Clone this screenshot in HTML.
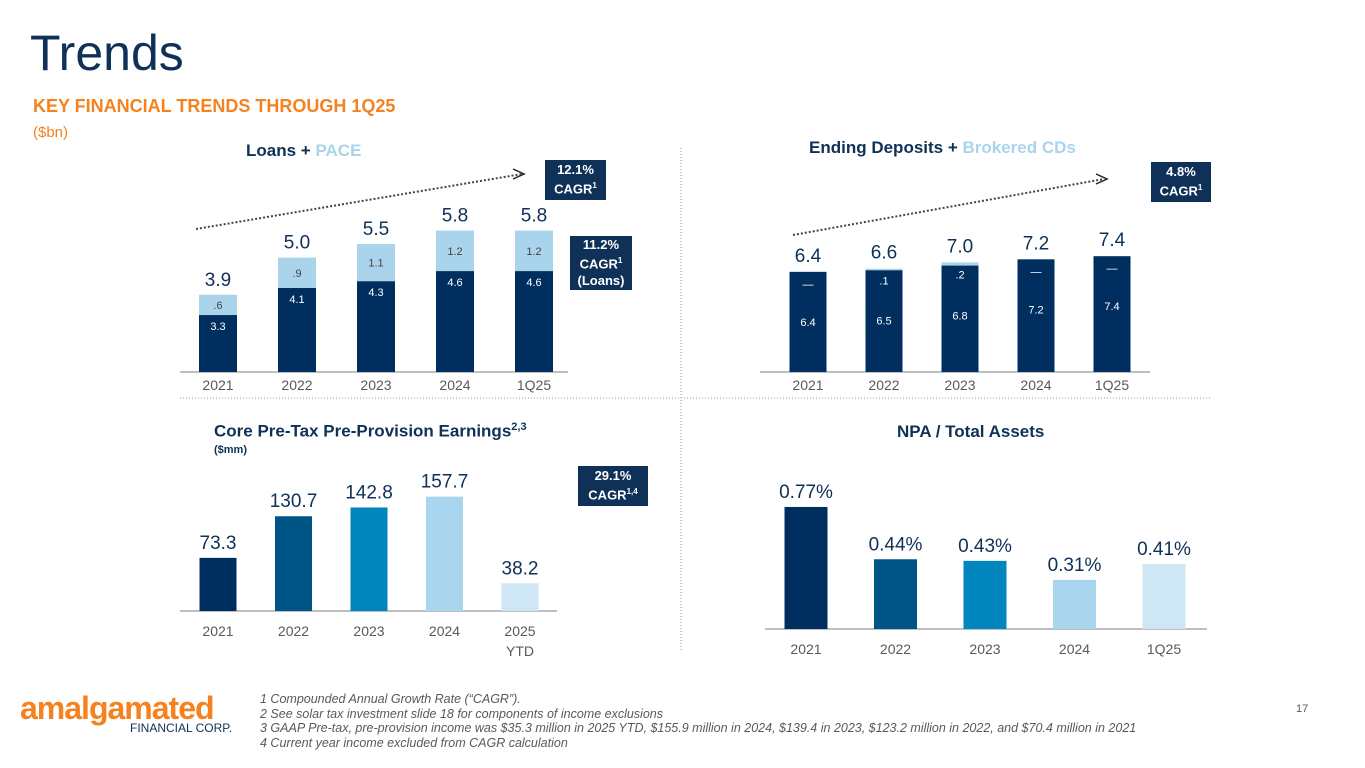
<!DOCTYPE html>
<html><head><meta charset="utf-8"><style>
body{margin:0;width:1365px;height:768px;background:#fff;font-family:"Liberation Sans",sans-serif;position:relative;overflow:hidden}
.a{position:absolute;white-space:nowrap}
.box{position:absolute;background:#0f3057;color:#fff;font-weight:bold;font-size:13px;text-align:center;line-height:16px;display:flex;flex-direction:column;justify-content:center}
sup{font-size:8px}
</style></head><body>
<div class="a" style="left:30px;top:24px;font-size:50px;color:#0f3057">Trends</div>
<div class="a" style="left:33px;top:96px;font-size:18px;font-weight:bold;color:#f5821f">KEY FINANCIAL TRENDS THROUGH 1Q25</div>
<div class="a" style="left:33px;top:124px;font-size:15px;color:#f5821f">($bn)</div>
<div class="a" style="left:246px;top:141px;font-size:17px;font-weight:bold;color:#0f3057">Loans + <span style="color:#a9d4ec">PACE</span></div>
<div class="a" style="left:809px;top:138px;font-size:17px;font-weight:bold;color:#0f3057">Ending Deposits + <span style="color:#a9d4ec">Brokered CDs</span></div>
<div class="a" style="left:214px;top:421px;font-size:17px;font-weight:bold;color:#0f3057">Core Pre-Tax Pre-Provision Earnings<sup style="font-size:11px">2,3</sup></div>
<div class="a" style="left:214px;top:444px;font-size:11px;font-weight:bold;color:#0f3057">($mm)</div>
<div class="a" style="left:897px;top:422px;font-size:17px;font-weight:bold;color:#0f3057">NPA / Total Assets</div>
<div class="box" style="left:545px;top:160px;width:61px;height:40px">12.1%<span>CAGR<sup>1</sup></span></div>
<div class="box" style="left:570px;top:236px;width:62px;height:54px">11.2%<span>CAGR<sup>1</sup></span>(Loans)</div>
<div class="box" style="left:1151px;top:162px;width:60px;height:40px">4.8%<span>CAGR<sup>1</sup></span></div>
<div class="box" style="left:578px;top:466px;width:70px;height:40px">29.1%<span>CAGR<sup>1,4</sup></span></div>
<svg class="a" style="left:0;top:0" width="1365" height="768" id="s">
<line x1="681" y1="148" x2="681" y2="652" stroke="#999" stroke-dasharray="1,2"/>
<line x1="180" y1="398" x2="1210" y2="398" stroke="#999" stroke-dasharray="1,2"/>
<line x1="196" y1="229" x2="522" y2="174" stroke="#444" stroke-width="2" stroke-dasharray="2,2"/>
<path d="M513,169 L524,174 L513,179" fill="none" stroke="#222" stroke-width="1.5"/>
<line x1="793" y1="235" x2="1104" y2="179" stroke="#444" stroke-width="2" stroke-dasharray="2,2"/>
<path d="M1096,174 L1107,179 L1096,184" fill="none" stroke="#222" stroke-width="1.5"/>
</svg>
<div class="a" style="left:20px;top:690px;font-size:32px;font-weight:bold;color:#f5821f;letter-spacing:-1px">amalgamated</div>
<div class="a" style="left:130px;top:721px;font-size:12px;color:#0f3057">FINANCIAL CORP.</div>
<div class="a" style="left:260px;top:692px;font-size:12.5px;font-style:italic;color:#595959;line-height:14.5px">1 Compounded Annual Growth Rate (“CAGR”).<br>2 See solar tax investment slide 18 for components of income exclusions<br>3 GAAP Pre-tax, pre-provision income was $35.3 million in 2025 YTD, $155.9 million in 2024, $139.4 in 2023, $123.2 million in 2022, and $70.4 million in 2021<br>4 Current year income excluded from CAGR calculation</div>
<div class="a" style="left:1296px;top:703px;font-size:11px;color:#595959">17</div>
<script>
const loanCats=["2021","2022","2023","2024","1Q25"];
const loansCore=[3.3,4.1,4.3,4.6,4.6];
const loansPace=[0.6,0.9,1.1,1.2,1.2];
const loansTotalLbl=["3.9","5.0","5.5","5.8","5.8"];
const loansCoreLbl=["3.3","4.1","4.3","4.6","4.6"];
const loansPaceLbl=[".6",".9","1.1","1.2","1.2"];
const depCats=["2021","2022","2023","2024","1Q25"];
const depCore=[6.4,6.5,6.8,7.2,7.4];
const depBrok=[0,0.1,0.2,0,0];
const depTotalLbl=["6.4","6.6","7.0","7.2","7.4"];
const depCoreLbl=["6.4","6.5","6.8","7.2","7.4"];
const depBrokLbl=["—",".1",".2","—","—"];
const ppCats=["2021","2022","2023","2024","2025"];
const ppVals=[73.3,130.7,142.8,157.7,38.2];
const npaCats=["2021","2022","2023","2024","1Q25"];
const npaVals=[0.77,0.44,0.43,0.31,0.41];
const NS="http://www.w3.org/2000/svg",s=document.getElementById('s');
function mk(t,a,txt){const e=document.createElementNS(NS,t);for(const k in a)e.setAttribute(k,a[k]);if(txt!==undefined)e.textContent=txt;s.appendChild(e);return e;}
function txt(x,y,t,size,col,name){const e=mk('text',{x:x,y:y,'text-anchor':'middle','font-size':size,fill:col,'font-family':'Liberation Sans, sans-serif'},t);

return e;}
function rect(x,y,w,h,c,name){const e=mk('rect',{x:x,y:y,width:w,height:Math.max(0,h),fill:c});

return e;}
function axis(x1,x2,y){mk('line',{x1:x1,x2:x2,y1:y,y2:y,stroke:'#aaa','stroke-width':1.5});}
const lx=i=>218+i*79, ly=v=>372-(v-1.615)*33.8;
axis(180,568,372);
loanCats.forEach((c,i)=>{const tot=loansCore[i]+loansPace[i];
rect(lx(i)-19,ly(tot),38,ly(loansCore[i])-ly(tot),'#a9d4ec','loans-pace-bar');
rect(lx(i)-19,ly(loansCore[i]),38,372-ly(loansCore[i]),'#002f5f','loans-core-bar');
txt(lx(i),ly(tot)-9,loansTotalLbl[i],19,'#0f3057','loans-total-label');
txt(lx(i),(ly(tot)+ly(loansCore[i]))/2+4,loansPaceLbl[i],11,'#444','loans-pace-label');
txt(lx(i),ly(loansCore[i])+15,loansCoreLbl[i],11,'#fff','loans-core-label');
txt(lx(i),390,c,14,'#595959','loans-x-label');});
const dx=i=>808+i*76, dy=v=>372-v*15.65;
axis(760,1150,372);
depCats.forEach((c,i)=>{const tot=depCore[i]+depBrok[i];
rect(dx(i)-18.5,dy(tot),37,dy(depCore[i])-dy(tot),'#a9d4ec','deposits-brokered-bar');
rect(dx(i)-18.5,dy(depCore[i]),37,372-dy(depCore[i]),'#002f5f','deposits-core-bar');
txt(dx(i),dy(tot)-10,depTotalLbl[i],19,'#0f3057','deposits-total-label');
txt(dx(i),dy(tot)+16,depBrokLbl[i],11,'#fff','deposits-brokered-label');
txt(dx(i),dy(depCore[i])+54,depCoreLbl[i],11,'#fff','deposits-core-label');
txt(dx(i),390,c,14,'#595959','deposits-x-label');});
const ppCol=['#002f5f','#005587','#0085bc','#a9d6ee','#cfe7f4'];
const px=i=>218+i*75.5, py=v=>611-v*0.725;
axis(180,557,611);
ppCats.forEach((c,i)=>{rect(px(i)-18.5,py(ppVals[i]),37,611-py(ppVals[i]),ppCol[i],'ppnr-bar');
txt(px(i),py(ppVals[i])-9,ppVals[i].toFixed(1),19,'#0f3057','ppnr-value-label');
txt(px(i),636,c,14,'#595959','ppnr-x-label');});
txt(px(4),656,'YTD',14,'#595959','ppnr-x-label-ytd');
const nx=i=>806+i*89.5, ny=v=>629-v*158.5;
axis(765,1207,629);
npaCats.forEach((c,i)=>{rect(nx(i)-21.5,ny(npaVals[i]),43,629-ny(npaVals[i]),ppCol[i],'npa-bar');
txt(nx(i),ny(npaVals[i])-9,npaVals[i].toFixed(2)+'%',19,'#0f3057','npa-value-label');
txt(nx(i),654,c,14,'#595959','npa-x-label');});
</script>
</body></html>
